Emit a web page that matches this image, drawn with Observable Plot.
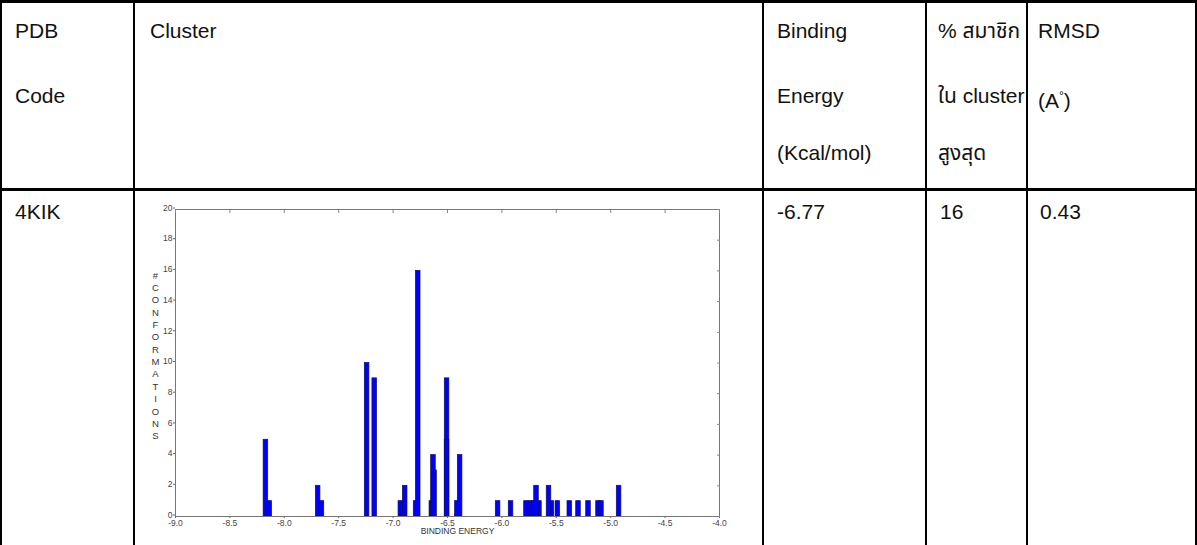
<!DOCTYPE html>
<html>
<head>
<meta charset="utf-8">
<script src="https://cdn.jsdelivr.net/npm/d3@7"></script>
<script src="https://cdn.jsdelivr.net/npm/@observablehq/plot@0.6"></script>
<style>
  html, body { margin: 0; padding: 0; background: #fff; }
  #page { position: relative; width: 1197px; height: 545px; overflow: hidden; background: #fff;
          font-family: "Liberation Sans", Arial, "Noto Sans", "Noto Sans Thai", Loma, Garuda, sans-serif; color: #111; }
  .hl { position: absolute; background: #000; }
  .t { position: absolute; font-size: 21px; line-height: 24px; white-space: nowrap; }
  #chart { position: absolute; left: 140px; top: 195px; }
</style>
</head>
<body>
<div id="page">
  <div class="hl" style="left:0;top:0;width:1197px;height:3px"></div>
  <div class="hl" style="left:0;top:188px;width:1197px;height:3px"></div>
  <div class="hl" style="left:0;top:0;width:2px;height:545px"></div>
  <div class="hl" style="left:133px;top:0;width:2px;height:545px"></div>
  <div class="hl" style="left:762px;top:0;width:2px;height:545px"></div>
  <div class="hl" style="left:925px;top:0;width:2px;height:545px"></div>
  <div class="hl" style="left:1026px;top:0;width:2px;height:545px"></div>
  <div class="hl" style="left:1195px;top:0;width:2px;height:545px"></div>

  <div class="t" style="left:15px;top:19px">PDB</div>
  <div class="t" style="left:15px;top:84px">Code</div>
  <div class="t" style="left:150px;top:19px">Cluster</div>
  <div class="t" style="left:777px;top:19px">Binding</div>
  <div class="t" style="left:777px;top:84px">Energy</div>
  <div class="t" style="left:777px;top:141px">(Kcal/mol)</div>
  <div class="t" style="left:938px;top:19px">% สมาชิก</div>
  <div class="t" style="left:938px;top:84px">ใน cluster</div>
  <div class="t" style="left:938px;top:141px">สูงสุด</div>
  <div class="t" style="left:1038px;top:19px">RMSD</div>
  <div class="t" style="left:1038px;top:84px">(A<sup style="font-size:12px">°</sup>)</div>

  <div class="t" style="left:15px;top:200px">4KIK</div>
  <div class="t" style="left:777px;top:200px">-6.77</div>
  <div class="t" style="left:940px;top:200px">16</div>
  <div class="t" style="left:1040px;top:200px">0.43</div>

  <div id="chart"></div>
</div>
<script>
// Lowest binding energy of each cluster (kcal/mol) and its number of conformations
const energies = [-8.19, -8.155, -7.71, -7.675, -7.26, -7.19, -6.95, -6.91, -6.81, -6.79,
                  -6.665, -6.65, -6.64, -6.525, -6.525, -6.43, -6.405, -6.056, -5.937,
                  -5.795, -5.756, -5.728, -5.676, -5.703, -5.562, -5.588, -5.507,
                  -5.397, -5.317, -5.225, -5.133, -5.106, -4.944];
const counts   = [5, 1, 2, 1, 10, 9, 1, 2, 1, 16,
                  1, 4, 3, 9, 5, 1, 4, 1, 1,
                  1, 1, 1, 1, 2, 1, 2, 1,
                  1, 1, 1, 1, 1, 2];
const xTicks = [-9.0, -8.5, -8.0, -7.5, -7.0, -6.5, -6.0, -5.5, -5.0, -4.5, -4.0];
const yTicks = [0, 2, 4, 6, 8, 10, 12, 14, 16, 18, 20];
const xLabel = "BINDING ENERGY";
const yLabel = "#CONFORMATIONS";
const barWidth = 0.042;

const bars = energies.map((e, i) => ({e, n: counts[i]}));

const chart = Plot.plot({
  width: 600,
  height: 345,
  marginLeft: 35,
  marginRight: 21,
  marginTop: 14,
  marginBottom: 24,
  style: {fontFamily: "Liberation Sans, Arial, sans-serif", fontSize: "8.5px", color: "#444", background: "transparent", overflow: "visible"},
  x: {domain: [-9, -4]},
  y: {domain: [0, 20]},
  marks: [
    Plot.rectY(bars, {x1: "e", x2: d => d.e + barWidth, y1: 0, y2: "n", fill: "#0000ff", stroke: "#10104a", strokeWidth: 0.7}),
    Plot.frame({stroke: "#777"}),
    Plot.axisX(xTicks, {anchor: "bottom", tickSize: 2, tickPadding: 1, tickFormat: d => d.toFixed(1), label: null, stroke: "#666", fill: "#444"}),
    Plot.axisY(yTicks, {anchor: "left", tickSize: 2, tickPadding: 1, dy: -1.5, label: null, stroke: "#666", fill: "#444"}),
    Plot.axisX(xTicks, {anchor: "top", tickSize: -3, tickFormat: () => "", label: null, stroke: "#888"}),
    Plot.axisY(yTicks, {anchor: "right", tickSize: -3, tickFormat: () => "", label: null, stroke: "#888"}),
    Plot.text([xLabel], {frameAnchor: "bottom", dx: 10, dy: 17, fontSize: 8.5, fill: "#333"}),
    Plot.text([yLabel.split("").join("\n")], {frameAnchor: "left", textAnchor: "middle", dx: -20, dy: -8, lineHeight: 1.3, fontSize: 9.5, fill: "#333"})
  ]
});
document.getElementById("chart").appendChild(chart);
</script>
</body>
</html>
